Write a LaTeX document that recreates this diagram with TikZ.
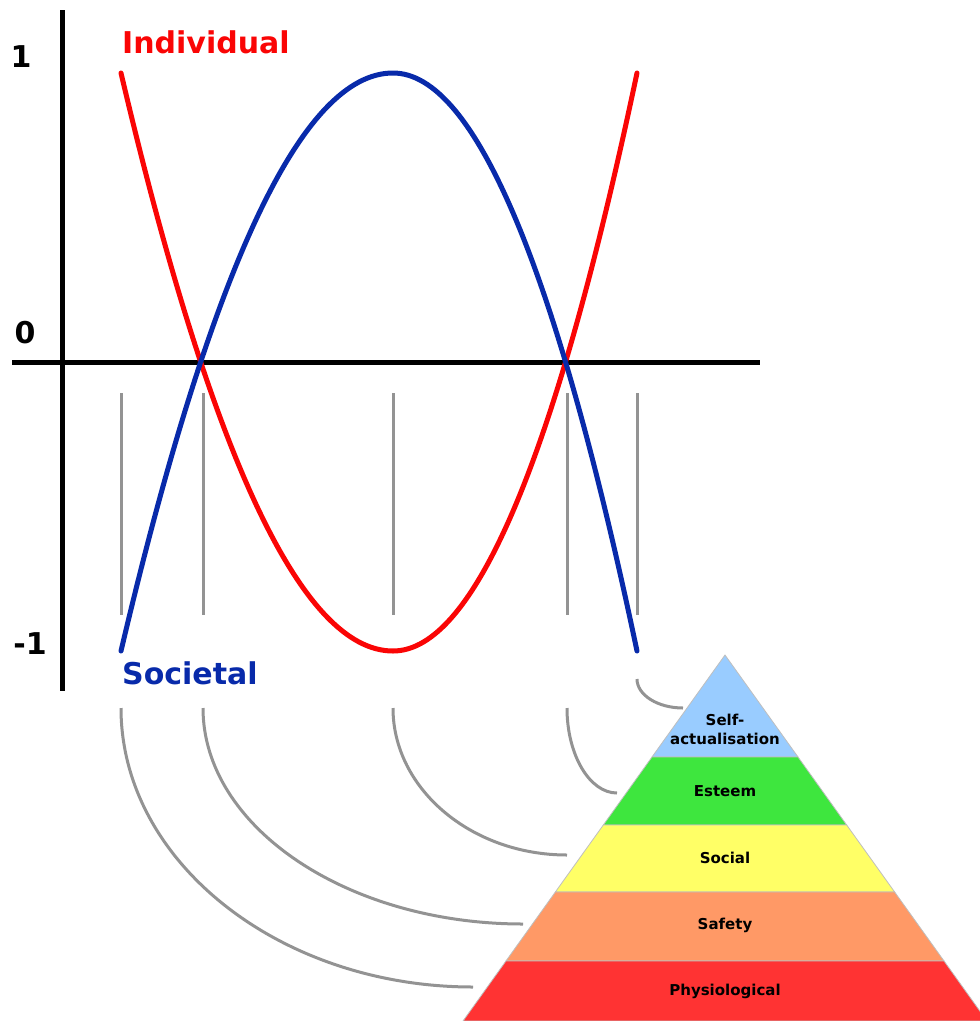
\documentclass[tikz,border=0pt]{standalone}
\usepackage{fontspec}
\usetikzlibrary{calc}
\newfontfamily\labelfont{DejaVu Sans}

\definecolor{indred}{RGB}{250,5,5}
\definecolor{socblue}{RGB}{8,42,170}
\definecolor{selfblue}{RGB}{153,204,255}
\definecolor{estgreen}{RGB}{62,230,62}
\definecolor{socyellow}{RGB}{255,255,102}
\definecolor{safeorange}{RGB}{255,153,102}
\definecolor{physred}{RGB}{255,51,51}

\begin{document}
\begin{tikzpicture}[
  x=1pt, y=-1pt,
  every node/.style = {font=\labelfont\bfseries\fontsize{30}{36}\selectfont, inner sep=0pt},
  %-- styles -------------------------------------------------------------
  axis/.style     = {line width=5pt, black},
  curve/.style    = {line width=5pt, line cap=round},
  tick/.style     = {line width=3pt, gray!85},
  link/.style     = {line width=3pt, gray!85,
                     to path={.. controls ($(\tikztostart)!0.55!(\tikztostart|-\tikztotarget)$)
                              and ($(\tikztotarget)!0.55!(\tikztostart|-\tikztotarget)$) .. (\tikztotarget)}},
  level/.style    = {draw=black!25, line width=0.8pt},
  levellab/.style = {font=\labelfont\bfseries\fontsize{15}{19}\selectfont, align=center},
]
\useasboundingbox (0,0) rectangle (980,1021);

% ── Axes ─────────────────────────────────────────────────────────────────────
\draw[axis] (62,10) -- (62,691);
\draw[axis] (12,362) -- (760,362);

\node (one)  at (21,57)  {1};
\node (zero) at (25,333) {0};
\node (mone) at (30,644) {-1};

% ── Curves ───────────────────────────────────────────────────────────────────
\draw[curve, indred] (121,73) .. controls (211.7,458.3) and (302.3,651) .. (393,651)
                              .. controls (474.3,651) and (555.7,458.3) .. (637,73);
\draw[curve, socblue] (121,651) .. controls (211.7,265.7) and (302.3,73) .. (393,73)
                               .. controls (474.3,73) and (555.7,265.7) .. (637,651);

\node[anchor=base west, text=indred]  (individual) at (122,53)  {Individual};
\node[anchor=base west, text=socblue] (societal)   at (122,684) {Societal};

% ── Gray ticks ───────────────────────────────────────────────────────────────
\draw[tick] (121,393) -- (121,615);
\draw[tick] (203,393) -- (203,615);
\draw[tick] (393,393) -- (393,615);
\draw[tick] (567,393) -- (567,615);
\draw[tick] (637,393) -- (637,615);

% ── Pyramid ──────────────────────────────────────────────────────────────────
\coordinate (apex) at (725,655);
\coordinate (bl)   at (463,1021);
\coordinate (br)   at (987,1021);
\coordinate (L1) at ($(apex)!0.2787!(bl)$);  \coordinate (R1) at ($(apex)!0.2787!(br)$);
\coordinate (L2) at ($(apex)!0.4645!(bl)$);  \coordinate (R2) at ($(apex)!0.4645!(br)$);
\coordinate (L3) at ($(apex)!0.6475!(bl)$);  \coordinate (R3) at ($(apex)!0.6475!(br)$);
\coordinate (L4) at ($(apex)!0.8361!(bl)$);  \coordinate (R4) at ($(apex)!0.8361!(br)$);

\filldraw[level, fill=selfblue]   (apex) -- (R1) -- (L1) -- cycle;
\filldraw[level, fill=estgreen]   (L1) -- (R1) -- (R2) -- (L2) -- cycle;
\filldraw[level, fill=socyellow]  (L2) -- (R2) -- (R3) -- (L3) -- cycle;
\filldraw[level, fill=safeorange] (L3) -- (R3) -- (R4) -- (L4) -- cycle;
\filldraw[level, fill=physred]    (L4) -- (R4) -- (br) -- (bl) -- cycle;

\node[levellab] (selfact) at (725,729) {Self-\\actualisation};
\node[levellab] (esteem)  at (725,791) {Esteem};
\node[levellab] (social)  at (725,858) {Social};
\node[levellab] (safety)  at (725,925) {Safety};
\node[levellab] (physio)  at (725,991) {Physiological};

% ── Links from ticks to levels ───────────────────────────────────────────────
\coordinate (tself) at (637,679);  \coordinate (selfin) at (683,708);
\coordinate (test)  at (567,708);  \coordinate (estin)  at (617,793);
\coordinate (tsoc)  at (393,708);  \coordinate (socin)  at (567,855);
\coordinate (tsafe) at (203,708);  \coordinate (safin)  at (523,924);
\coordinate (tphys) at (121,708);  \coordinate (phyin)  at (473,987);

\draw[link] (tself) to (selfin);
\draw[link] (test)  to (estin);
\draw[link] (tsoc)  to (socin);
\draw[link] (tsafe) to (safin);
\draw[link] (tphys) to (phyin);

\end{tikzpicture}
\end{document}
